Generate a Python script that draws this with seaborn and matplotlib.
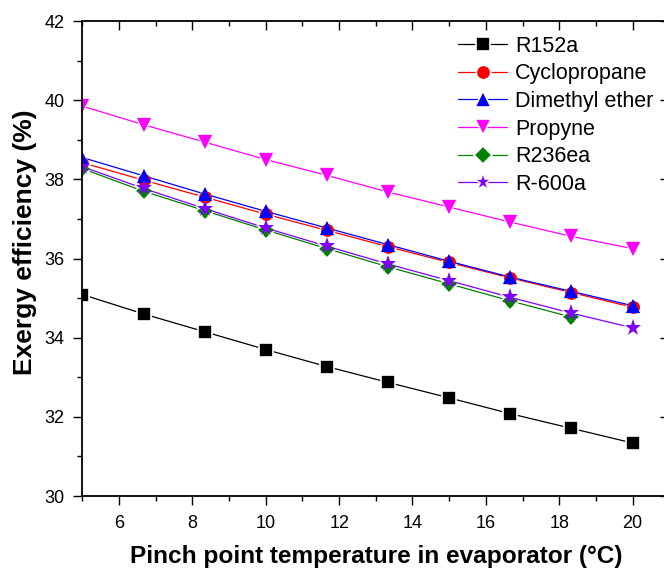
import numpy as np
import pandas as pd
import matplotlib
matplotlib.use("Agg")
import matplotlib.pyplot as plt
from matplotlib.ticker import MultipleLocator
import seaborn as sns

# Pinch point temperature in the evaporator (°C)
pinch_temp = [5.0, 6.667, 8.333, 10.0, 11.667, 13.333, 15.0, 16.667, 18.333, 20.0]

# Exergy efficiency (%) for each working fluid
r152a = [35.09, 34.60, 34.15, 33.70, 33.27, 32.87, 32.48, 32.08, 31.71, 31.34]
cyclopropane = [38.42, 37.98, 37.55, 37.12, 36.71, 36.30, 35.90, 35.51, 35.14, 34.77]
dimethyl_ether = [38.55, 38.09, 37.63, 37.19, 36.77, 36.35, 35.93, 35.53, 35.17, 34.81]
propyne = [39.85, 39.38, 38.94, 38.50, 38.10, 37.68, 37.30, 36.92, 36.56, 36.25]
r236ea = [38.27, 37.70, 37.21, 36.72, 36.25, 35.79, 35.36, 34.93, 34.52]
r600a = [38.32, 37.77, 37.26, 36.77, 36.31, 35.86, 35.44, 35.02, 34.62, 34.25]

fluid_names = ["R152a", "Cyclopropane", "Dimethyl ether", "Propyne", "R236ea", "R-600a"]
fluid_values = [r152a, cyclopropane, dimethyl_ether, propyne, r236ea, r600a]
fluid_colors = ["#000000", "#FF0000", "#0000FF", "#FF00FF", "#008000", "#8000FF"]
fluid_markers = ["s", "o", "^", "v", "D", "*"]
marker_sizes = [8.3, 9.2, 10.0, 10.0, 7.6, 12.5]
gap = 1.2  # white halo that opens the line around each symbol

frames = []
for name, vals in zip(fluid_names, fluid_values):
    frames.append(pd.DataFrame({"Pinch": pinch_temp[:len(vals)],
                                "Efficiency": vals,
                                "Fluid": name}))
df = pd.concat(frames, ignore_index=True)

sns.set_style("ticks")
plt.rcParams["font.family"] = ["Liberation Sans", "DejaVu Sans"]
plt.rcParams["text.color"] = "black"
plt.rcParams["axes.labelcolor"] = "black"
plt.rcParams["xtick.color"] = "black"
plt.rcParams["ytick.color"] = "black"

fig = plt.figure(figsize=(6.64, 5.70), dpi=100)
ax = fig.add_axes([0.1242, 0.1298, 0.8836, 0.8333])

# lines with haloed symbols (these also feed the legend)
for name, color, marker, ms in zip(fluid_names, fluid_colors, fluid_markers, marker_sizes):
    sub = df[df["Fluid"] == name]
    sns.lineplot(data=sub, x="Pinch", y="Efficiency", ax=ax, color=color,
                 marker=marker, markersize=ms + gap, markeredgecolor="white",
                 markeredgewidth=gap, linewidth=0.9, label=name, legend=False)

# solid symbols on top so overlapping series stay visible
for name, color, marker, ms in zip(fluid_names, fluid_colors, fluid_markers, marker_sizes):
    sub = df[df["Fluid"] == name]
    sns.lineplot(data=sub, x="Pinch", y="Efficiency", ax=ax, color=color,
                 marker=marker, markersize=ms, markeredgewidth=0,
                 linestyle="none", legend=False)

ax.set_xlim(5, 21)
ax.set_ylim(30, 42)
ax.xaxis.set_major_locator(MultipleLocator(2))
ax.xaxis.set_minor_locator(MultipleLocator(1))
ax.yaxis.set_major_locator(MultipleLocator(2))
ax.yaxis.set_minor_locator(MultipleLocator(1))
ax.set_xticks(np.arange(6, 21, 2))

for side in ["left", "bottom", "top", "right"]:
    ax.spines[side].set_visible(True)
    ax.spines[side].set_linewidth(1.3)
    ax.spines[side].set_color("black")

ax.tick_params(which="major", direction="out", length=6.5, width=1.0,
               labelsize=13, colors="black")
ax.tick_params(which="minor", direction="out", length=3.5, width=1.0, colors="black")
ax.tick_params(axis="x", which="major", pad=7.5)
ax.tick_params(axis="y", which="major", pad=6.5)
ax.tick_params(which="both", top=True, right=True)
# ticks on the mirrored top/right axes point inward
for t in ax.xaxis.get_major_ticks() + ax.xaxis.get_minor_ticks():
    t.tick2line.set_marker(matplotlib.lines.TICKDOWN)
for t in ax.yaxis.get_major_ticks() + ax.yaxis.get_minor_ticks():
    t.tick2line.set_marker(matplotlib.lines.TICKLEFT)

ax.set_xlabel("Pinch point temperature in evaporator (°C)", fontsize=17.6, fontweight="bold")
ax.set_ylabel("Exergy efficiency (%)", fontsize=19, fontweight="bold")
ax.xaxis.set_label_coords(0.5, -0.103)
ax.yaxis.set_label_coords(-0.078, 0.534)

ax.legend(loc="upper left", bbox_to_anchor=(458 / 664, 1 - 35.5 / 570),
          bbox_transform=fig.transFigure, frameon=False, fontsize=15.5,
          borderpad=0, borderaxespad=0, handlelength=2.28, handletextpad=0.37,
          labelspacing=0.31)

fig.savefig("out.png", dpi=100)
